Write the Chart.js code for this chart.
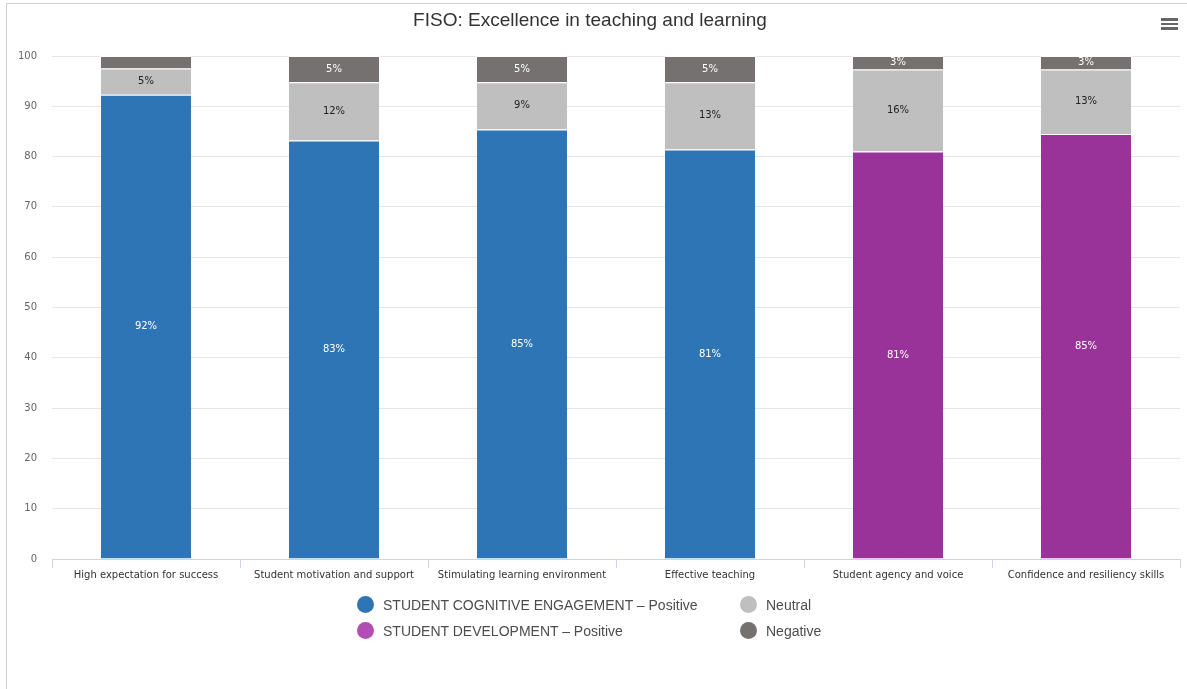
<!DOCTYPE html>
<html>
<head>
<meta charset="utf-8">
<title>FISO: Excellence in teaching and learning</title>
<script src="https://cdn.jsdelivr.net/npm/chart.js@4/dist/chart.umd.min.js"></script>
<style>
    html, body { margin: 0; padding: 0; background: #fff; }
    #wrap { position: relative; width: 1187px; height: 689px; overflow: hidden; }
    #frame { position: absolute; left: 6px; top: 3px; right: -2px; bottom: -2px;
             border-left: 1px solid #cfcfcf; border-top: 1px solid #cfcfcf; }
    #menu { position: absolute; left: 1161px; top: 18px; width: 17px; }
    #menu div { height: 2.5px; background: #666; margin-bottom: 2px; }
    #legend { position: absolute; left: 0; top: 0; width: 1187px; height: 689px; pointer-events: none;
              font-family: "Liberation Sans", Arial, sans-serif; font-size: 14px; color: #4d4d4d; }
    .item { position: absolute; display: flex; align-items: center; white-space: nowrap; }
    .dot { width: 17px; height: 17px; border-radius: 50%; margin-right: 9px; }
</style>
</head>
<body>
<div id="wrap">
    <div id="frame"></div>
    <canvas id="chart" width="1187" height="689"></canvas>
    <div id="menu"><div></div><div></div><div></div></div>
    <div id="legend"></div>
</div>
<script>
const categories = [
    'High expectation for success',
    'Student motivation and support',
    'Stimulating learning environment',
    'Effective teaching',
    'Student agency and voice',
    'Confidence and resiliency skills'
];
const cognitivePositive = [92.3, 83.2, 85.4, 81.4, null, null];
const developmentPositive = [null, null, null, null, 81.0, 84.5];
const neutral = [5.2, 11.6, 9.4, 13.4, 16.3, 12.8];
const negative = [2.5, 5.2, 5.2, 5.2, 2.7, 2.7];
const yTicks = [0, 10, 20, 30, 40, 50, 60, 70, 80, 90, 100];

const BLUE = '#2e75b6';
const PURPLE = '#993399';
const GREY = '#bfbfbf';
const DARK = '#767171';

// draws "xx%" in the middle of each segment
const segmentLabels = {
    id: 'segmentLabels',
    afterDatasetsDraw(chart) {
        const ctx = chart.ctx;
        ctx.save();
        ctx.font = '10px "DejaVu Sans", sans-serif';
        ctx.textAlign = 'center';
        ctx.textBaseline = 'middle';
        chart.data.datasets.forEach((ds, i) => {
            const meta = chart.getDatasetMeta(i);
            meta.data.forEach((bar, j) => {
                const v = ds.data[j];
                if (v == null) return;
                const h = Math.abs(bar.base - bar.y);
                if (h < 13) return; // too small to fit a label
                ctx.fillStyle = ds.labelColor;
                ctx.fillText(Math.round(v) + '%', bar.x, (bar.y + bar.base) / 2);
            });
        });
        ctx.restore();
    }
};

const ctx = document.getElementById('chart').getContext('2d');
const chart = new Chart(ctx, {
    type: 'bar',
    data: {
        labels: categories,
        datasets: [
            { label: 'STUDENT COGNITIVE ENGAGEMENT \u2013 Positive', data: cognitivePositive, backgroundColor: BLUE, legendColor: BLUE, labelColor: '#ffffff', order: 0 },
            { label: 'Neutral', data: neutral, backgroundColor: GREY, legendColor: GREY, labelColor: '#222222', order: 2 },
            { label: 'STUDENT DEVELOPMENT \u2013 Positive', data: developmentPositive, backgroundColor: PURPLE, legendColor: '#b24db5', labelColor: '#ffffff', order: 1 },
            { label: 'Negative', data: negative, backgroundColor: DARK, legendColor: DARK, labelColor: '#ffffff', order: 3 }
        ]
    },
    options: {
        responsive: false,
        animation: false,
        maintainAspectRatio: false,
        layout: { padding: { left: 0, right: 7, top: 0, bottom: 100 } },
        datasets: {
            bar: {
                barPercentage: 0.48,
                categoryPercentage: 1,
                borderColor: '#ffffff',
                borderWidth: { top: 1, left: 0, right: 0, bottom: 0 },
                borderSkipped: false
            }
        },
        scales: {
            x: {
                stacked: true,
                grid: { drawOnChartArea: false, drawTicks: true, tickLength: 9, color: '#ccd6eb' },
                border: { color: '#ccd6eb' },
                ticks: { padding: 1, color: '#333333', font: { family: '"DejaVu Sans", sans-serif', size: 10 }, maxRotation: 0, autoSkip: false },
                afterFit: scale => { scale.height = 30; }
            },
            y: {
                stacked: true,
                min: 0,
                max: 100,
                afterBuildTicks: scale => { scale.ticks = yTicks.map(v => ({ value: v })); },
                grid: { drawTicks: false, color: c => c.tick.value === 0 ? 'rgba(0,0,0,0)' : '#e6e6e6' },
                border: { display: false },
                ticks: { padding: 15, color: '#666666', font: { family: '"DejaVu Sans", sans-serif', size: 10 } },
                afterFit: scale => { scale.width = 52; }
            }
        },
        plugins: {
            legend: { display: false },
            tooltip: { enabled: false },
            title: {
                display: true,
                text: 'FISO: Excellence in teaching and learning',
                color: '#333333',
                font: { family: '"Liberation Sans", Arial, sans-serif', size: 19, weight: 'normal' },
                padding: { top: 9, bottom: 24.2 }
            }
        }
    },
    plugins: [segmentLabels]
});

// two-column legend below the plot
const legendPos = [
    { left: 357, top: 596 },
    { left: 740, top: 596 },
    { left: 357, top: 622 },
    { left: 740, top: 622 }
];
const legendEl = document.getElementById('legend');
chart.data.datasets.forEach((ds, i) => {
    const item = document.createElement('div');
    item.className = 'item';
    item.style.left = legendPos[i].left + 'px';
    item.style.top = legendPos[i].top + 'px';
    item.innerHTML = '<span class="dot" style="background:' + ds.legendColor + '"></span><span>' + ds.label + '</span>';
    legendEl.appendChild(item);
});
</script>
</body>
</html>
